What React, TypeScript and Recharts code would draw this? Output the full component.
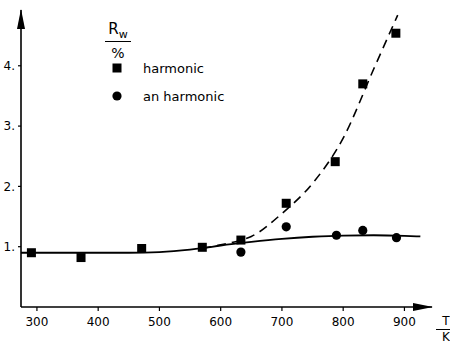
import { ComposedChart, Line, Scatter, XAxis, YAxis } from "recharts";

// measured points
const harmonicT = [291, 372, 471, 570, 633, 707, 787, 832, 886];
const harmonicR = [0.9, 0.82, 0.97, 0.99, 1.11, 1.72, 2.41, 3.7, 4.54];
const anharmonicT = [633, 707, 789, 832, 887];
const anharmonicR = [0.91, 1.33, 1.19, 1.27, 1.15];

// fitted curves
const solidT = [274, 350, 400, 450, 500, 550, 570, 600, 650, 700, 750, 800, 850, 900, 926];
const solidR = [0.9, 0.9, 0.9, 0.9, 0.91, 0.95, 0.975, 1.02, 1.08, 1.13, 1.165, 1.185, 1.19, 1.18, 1.17];
const dashT = [570, 600, 630, 650, 700, 750, 800, 850, 889];
const dashR = [0.975, 1.03, 1.1, 1.17, 1.55, 2.05, 2.8, 3.95, 4.84];

const xTicks = [300, 400, 500, 600, 700, 800, 900];
const yTicks = [1, 2, 3, 4];

const zip = (t: number[], r: number[]) => t.map((T, i) => ({ T, R: r[i] }));
const harmonic = zip(harmonicT, harmonicR);
const anharmonic = zip(anharmonicT, anharmonicR);
const solid = zip(solidT, solidR);
const dashed = zip(dashT, dashR);

const font = "'DejaVu Sans', sans-serif";

const SquareDot = (p: any) => <rect x={p.cx - 4.5} y={p.cy - 4.5} width={9} height={9} fill="#000" />;
const RoundDot = (p: any) => <circle cx={p.cx} cy={p.cy} r={4.6} fill="#000" />;

function LegendBox() {
  const row = { display: "flex", alignItems: "center", height: 28 } as const;
  return (
    <div style={{ position: "absolute", left: 110, top: 54, fontFamily: font, fontSize: 13, color: "#000" }}>
      <div style={row}>
        <svg width={33} height={10}><rect x={2.5} y={0.5} width={9} height={9} fill="#000" /></svg>
        <span>harmonic</span>
      </div>
      <div style={row}>
        <svg width={33} height={10}><circle cx={7} cy={5} r={4.6} fill="#000" /></svg>
        <span>an harmonic</span>
      </div>
    </div>
  );
}

export default function App() {
  return (
    <div style={{ position: "absolute", left: 0, top: 0, width: 450, height: 343, background: "#fff", overflow: "hidden" }}>
      <ComposedChart width={450} height={343} margin={{ top: 10, right: 18, bottom: 0, left: 0 }}>
        <defs>
          <marker id="arrow" markerWidth={20} markerHeight={10} refX={19} refY={5} orient="auto-start-reverse" markerUnits="userSpaceOnUse">
            <path d="M0,1 L20,5 L0,9 Z" fill="#000" />
          </marker>
        </defs>
        <XAxis
          type="number"
          dataKey="T"
          domain={[274, 945]}
          ticks={xTicks}
          allowDataOverflow
          height={36}
          tickSize={4}
          tickMargin={6}
          axisLine={{ stroke: "#000", strokeWidth: 1.6, markerEnd: "url(#arrow)" } as any}
          tickLine={{ stroke: "#000", strokeWidth: 1.2 }}
          tick={{ fill: "#000", fontSize: 12, fontFamily: font }}
        />
        <YAxis
          type="number"
          dataKey="R"
          domain={[0, 4.925]}
          ticks={yTicks}
          allowDataOverflow
          width={21}
          tickSize={3}
          tickMargin={3}
          tickFormatter={(v: number) => `${v}.`}
          axisLine={{ stroke: "#000", strokeWidth: 1.6, markerStart: "url(#arrow)" } as any}
          tickLine={{ stroke: "#000", strokeWidth: 1.2 }}
          tick={{ fill: "#000", fontSize: 12, fontFamily: font }}
        />
        <Line data={solid} dataKey="R" type="monotone" stroke="#000" strokeWidth={1.8} dot={false} isAnimationActive={false} />
        <Line data={dashed} dataKey="R" type="monotone" stroke="#000" strokeWidth={1.6} strokeDasharray="9 6" dot={false} isAnimationActive={false} />
        <Scatter data={harmonic} dataKey="R" shape={SquareDot} isAnimationActive={false} />
        <Scatter data={anharmonic} dataKey="R" shape={RoundDot} isAnimationActive={false} />
      </ComposedChart>
      <LegendBox />
      <div style={{ position: "absolute", left: 105, top: 20, width: 26, fontFamily: font, fontSize: 15, textAlign: "center", color: "#000" }}>
        <div style={{ borderBottom: "1.5px solid #000", paddingBottom: 3, lineHeight: "18px" }}>
          R<sub style={{ fontSize: 11, lineHeight: 0 }}>w</sub>
        </div>
        <div style={{ lineHeight: "22px", fontSize: 14 }}>%</div>
      </div>
      <div style={{ position: "absolute", left: 436, top: 314, width: 20, fontFamily: font, fontSize: 12, textAlign: "center", color: "#000" }}>
        <div style={{ borderBottom: "1.5px solid #000", lineHeight: "15px" }}>T</div>
        <div style={{ lineHeight: "14px" }}>K</div>
      </div>
    </div>
  );
}
